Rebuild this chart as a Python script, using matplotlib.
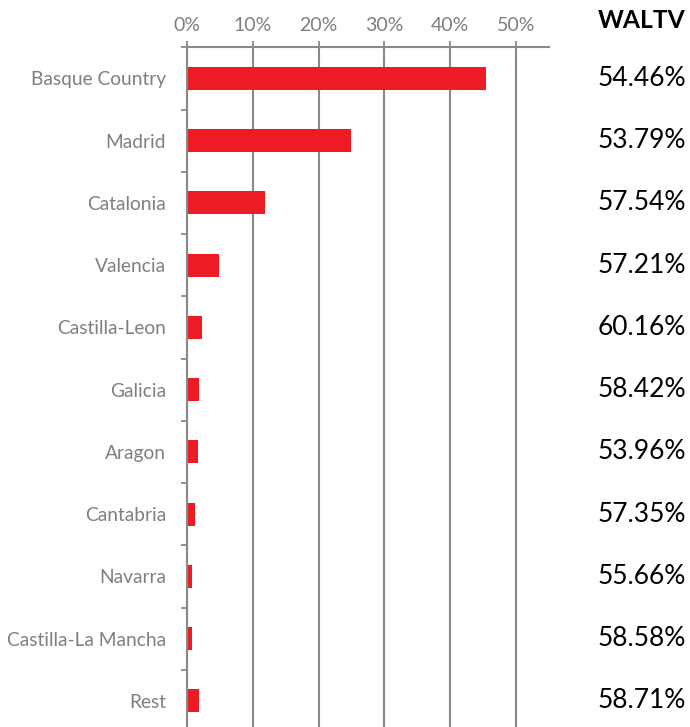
import matplotlib
matplotlib.use("Agg")
import matplotlib.pyplot as plt
from matplotlib.ticker import FixedLocator, PercentFormatter
from matplotlib.transforms import blended_transform_factory

regions = ["Basque Country", "Madrid", "Catalonia", "Valencia", "Castilla-Leon",
           "Galicia", "Aragon", "Cantabria", "Navarra", "Castilla-La Mancha", "Rest"]
share = [45.4, 24.9, 11.9, 4.9, 2.3, 1.8, 1.7, 1.3, 0.85, 0.75, 1.9]
waltv = [54.46, 53.79, 57.54, 57.21, 60.16, 58.42, 53.96, 57.35, 55.66, 58.58, 58.71]
x_ticks = [0, 10, 20, 30, 40, 50]

FONT = "Lato"
BAR = "#ED1C24"
LINE = "#898989"
TEXT = "#7F7F7F"

fig = plt.figure(figsize=(6.90, 7.27), dpi=100)
ax = fig.add_axes([0.2706, -0.0069, 0.5254, 0.9419])

y = list(range(len(regions)))
ax.barh(y, share, height=0.37, color=BAR, zorder=3)

ax.set_xlim(0, 55)
ax.set_ylim(len(regions) - 0.5, -0.5)

ax.xaxis.tick_top()
ax.set_xticks(x_ticks)
ax.xaxis.set_major_formatter(PercentFormatter(decimals=0))
ax.tick_params(axis="x", direction="out", length=4.5, width=1.3, color=LINE,
               pad=5, labelsize=14, labelcolor=TEXT)
for lab in ax.get_xticklabels():
    lab.set_fontfamily(FONT)
ax.grid(axis="x", color=LINE, linewidth=1.5, zorder=1)

ax.set_yticks(y)
ax.set_yticklabels(regions, fontfamily=FONT, fontsize=13.8, color=TEXT)
ax.yaxis.set_minor_locator(FixedLocator([i - 0.5 for i in range(len(regions) + 1)]))
ax.tick_params(axis="y", which="major", length=0, pad=15)
ax.tick_params(axis="y", which="minor", direction="out", length=4.5, width=1.3, color=LINE)

for side in ["right", "bottom"]:
    ax.spines[side].set_visible(False)
for side in ["top", "left"]:
    ax.spines[side].set_color(LINE)
    ax.spines[side].set_linewidth(1.5)
    ax.spines[side].set_zorder(4)

# WALTV column on the right
x_text = 686 / 690
fig.text(x_text, 1 - 20 / 727, "WALTV", ha="right", va="center",
         fontfamily=FONT, fontweight="bold", fontsize=17.7, color="black")
row_trans = blended_transform_factory(fig.transFigure, ax.transData)
for yi, v in zip(y, waltv):
    ax.text(x_text, yi, f"{v:.2f}%", ha="right", va="center", transform=row_trans,
            fontfamily=FONT, fontsize=19, color="black")

fig.savefig("out.png", dpi=100)
